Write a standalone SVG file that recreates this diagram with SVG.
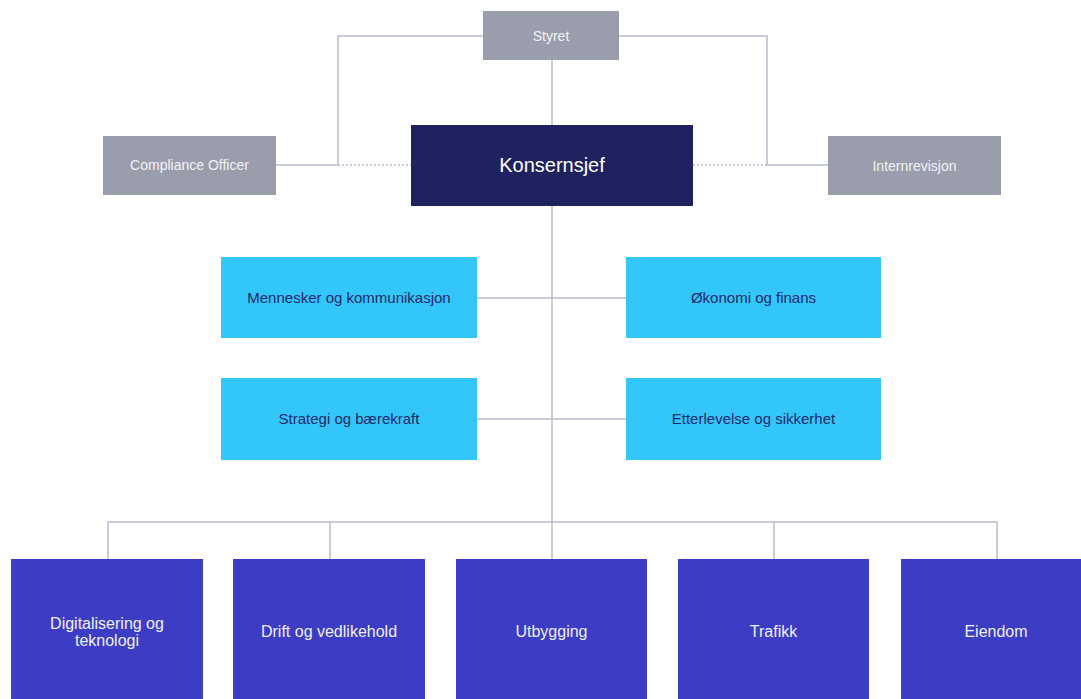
<svg xmlns="http://www.w3.org/2000/svg" width="1081" height="699" viewBox="0 0 1081 699">
<style>
.gray{fill:#9a9dab}
.ceo{fill:#1e225e}
.staff{fill:#33c6fb}
.unit{fill:#3d3cc4}
.ln{stroke:#b8bacc;stroke-width:1.5;fill:none}
.dot{stroke:#b8bacc;stroke-width:1.5;fill:none;stroke-dasharray:2 2}
text{font-family:"Liberation Sans",Arial,sans-serif;text-anchor:middle;dominant-baseline:central}
.tg{fill:#f2f3f7;font-size:14px}
.tc{fill:#ffffff;font-size:20px}
.ts{fill:#1d2a6a;font-size:15px}
.tu{fill:#eef0fb;font-size:16px}
</style>
<rect width="1081" height="699" fill="#ffffff"/>
<g id="connectors">
<polyline class="ln" points="483,36 338,36 338,165 276,165"/>
<line class="dot" x1="338" y1="165" x2="411" y2="165"/>
<polyline class="ln" points="619,36 767,36 767,165 828,165"/>
<line class="dot" x1="693" y1="165" x2="767" y2="165"/>
<line class="ln" x1="552" y1="60" x2="552" y2="125"/>
<line class="ln" x1="552" y1="206" x2="552" y2="559"/>
<line class="ln" x1="477" y1="298" x2="626" y2="298"/>
<line class="ln" x1="477" y1="419" x2="626" y2="419"/>
<polyline class="ln" points="108,559 108,522 997,522 997,559"/>
<line class="ln" x1="330" y1="522" x2="330" y2="559"/>
<line class="ln" x1="774" y1="522" x2="774" y2="559"/>
</g>
<g id="styret"><rect class="gray" x="483" y="11" width="136" height="49"/><text class="tg" x="551" y="36">Styret</text></g>
<g id="compliance"><rect class="gray" x="103" y="136" width="173" height="59"/><text class="tg" x="189.500" y="165">Compliance Officer</text></g>
<g id="konsernsjef"><rect class="ceo" x="411" y="125" width="282" height="81"/><text class="tc" x="552" y="165">Konsernsjef</text></g>
<g id="internrevisjon"><rect class="gray" x="828" y="136" width="173" height="59"/><text class="tg" x="914.500" y="166">Internrevisjon</text></g>
<g id="mennesker"><rect class="staff" x="221" y="257" width="256" height="81"/><text class="ts" x="349" y="297">Mennesker og kommunikasjon</text></g>
<g id="okonomi"><rect class="staff" x="626" y="257" width="255" height="81"/><text class="ts" x="753.500" y="297">Økonomi og finans</text></g>
<g id="strategi"><rect class="staff" x="221" y="378" width="256" height="82"/><text class="ts" x="349" y="418">Strategi og bærekraft</text></g>
<g id="etterlevelse"><rect class="staff" x="626" y="378" width="255" height="82"/><text class="ts" x="753.500" y="418">Etterlevelse og sikkerhet</text></g>
<g id="digitalisering"><rect class="unit" x="11" y="559" width="192" height="140"/><text class="tu" x="107" y="623">Digitalisering og</text><text class="tu" x="107" y="640">teknologi</text></g>
<g id="drift"><rect class="unit" x="233" y="559" width="192" height="140"/><text class="tu" x="329" y="631">Drift og vedlikehold</text></g>
<g id="utbygging"><rect class="unit" x="456" y="559" width="191" height="140"/><text class="tu" x="551.500" y="631">Utbygging</text></g>
<g id="trafikk"><rect class="unit" x="678" y="559" width="191" height="140"/><text class="tu" x="773.500" y="631">Trafikk</text></g>
<g id="eiendom"><rect class="unit" x="901" y="559" width="180" height="140"/><text class="tu" x="996" y="631">Eiendom</text></g>
</svg>
